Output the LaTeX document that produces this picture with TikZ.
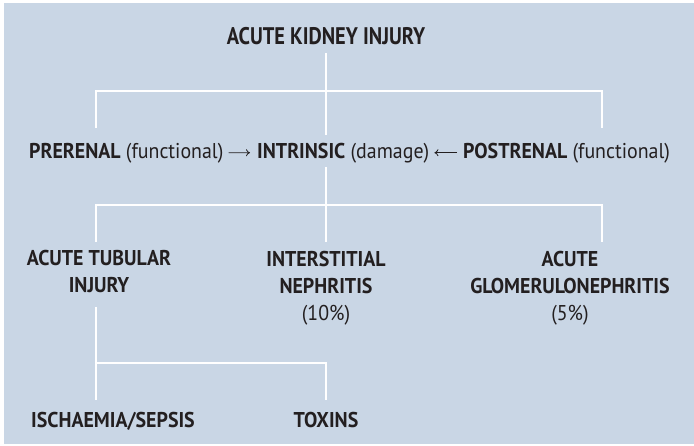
\documentclass[tikz,border=0pt]{standalone}
\usepackage{fontspec}
\setmainfont{PT Sans}[FakeStretch=0.85]
\newfontfamily\labelfont{PT Sans}[FakeStretch=0.93]
\usepackage{tikz}
\usetikzlibrary{arrows.meta, positioning, calc}
\definecolor{panelblue}{RGB}{201, 214, 229}
\definecolor{inkdark}{RGB}{35, 31, 32}
\tikzset{
  headbox/.style={inner sep=0pt, anchor=base, text=inkdark,
              font=\fontsize{24}{28}\selectfont\bfseries},
  catbox/.style={inner sep=0pt, anchor=base west, text=inkdark,
              font=\labelfont\fontsize{21.4}{26}\selectfont},
  leafbox/.style={inner sep=0pt, anchor=base, text=inkdark, align=center,
              font=\labelfont\fontsize{21.4}{27}\selectfont\bfseries},
  link/.style={draw=white, line width=2.4pt},
  flowarrow/.style={-{To[length=4pt, width=7pt]}, draw=inkdark, line width=0.8pt},
}

\begin{document}
\begin{tikzpicture}[x=1pt, y=-1pt]
  \useasboundingbox (0,0) rectangle (694,445);
  \fill[panelblue] (4,3) rectangle (694,444);

  \coordinate (colL) at (96,0);
  \coordinate (colR) at (602,0);
  \coordinate (bar1) at (326,91);
  \coordinate (bar2) at (326,205);
  \coordinate (bar3) at (326,363);

  \node[headbox] (aki) at (326,44) {ACUTE KIDNEY INJURY};

  \node[catbox] (pre) at (29,158) {\textbf{PRERENAL} (functional)};
  \node[catbox] (intr) at (257,158) {\textbf{INTRINSIC} (damage)};
  \node[catbox] (post) at (463,158) {\textbf{POSTRENAL} (functional)};

  % multi-line nodes sit on their last baseline
  \node[leafbox] (ati) at (99,292) {ACUTE TUBULAR\\INJURY};
  \node[leafbox] (inter) at (326,320) {INTERSTITIAL\\NEPHRITIS\\{\mdseries (10\%)}};
  \node[leafbox] (agn) at (570,320) {ACUTE\\GLOMERULONEPHRITIS\\{\mdseries (5\%)}};

  \node[leafbox] (isch) at (113,427) {ISCHAEMIA/SEPSIS};
  \node[leafbox] (tox) at (326,427) {TOXINS};

  % first fork
  \draw[link] ([yshift=-9pt]aki.base) -- ($(aki.base |- intr.base)+(0,-23)$);
  \draw[link] ($(bar1 -| colL)+(0,37)$) |- (bar1 -| colR) -- ++(0,37);

  % arrows towards intrinsic
  \draw[flowarrow, shorten <=5pt, shorten >=7pt] (pre.east) -- (intr.west);
  \draw[flowarrow, shorten <=6pt, shorten >=5pt] (post.west) -- (intr.east);

  % second fork
  \draw[link] ($(aki.base |- intr.base)+(0,9)$) -- ($(inter.north)+(0,-9)$);
  \draw[link] ($(bar2 -| colL)+(0,37)$) |- (bar2 -| colR) -- ++(0,37);

  % third fork
  \draw[link] ($(colL |- ati.base)+(0,15)$) -- ($(colL |- isch.base)+(0,-27)$);
  \draw[link] (bar3 -| colL) -| ($(tox.base)+(0,-27)$);
\end{tikzpicture}
\end{document}
